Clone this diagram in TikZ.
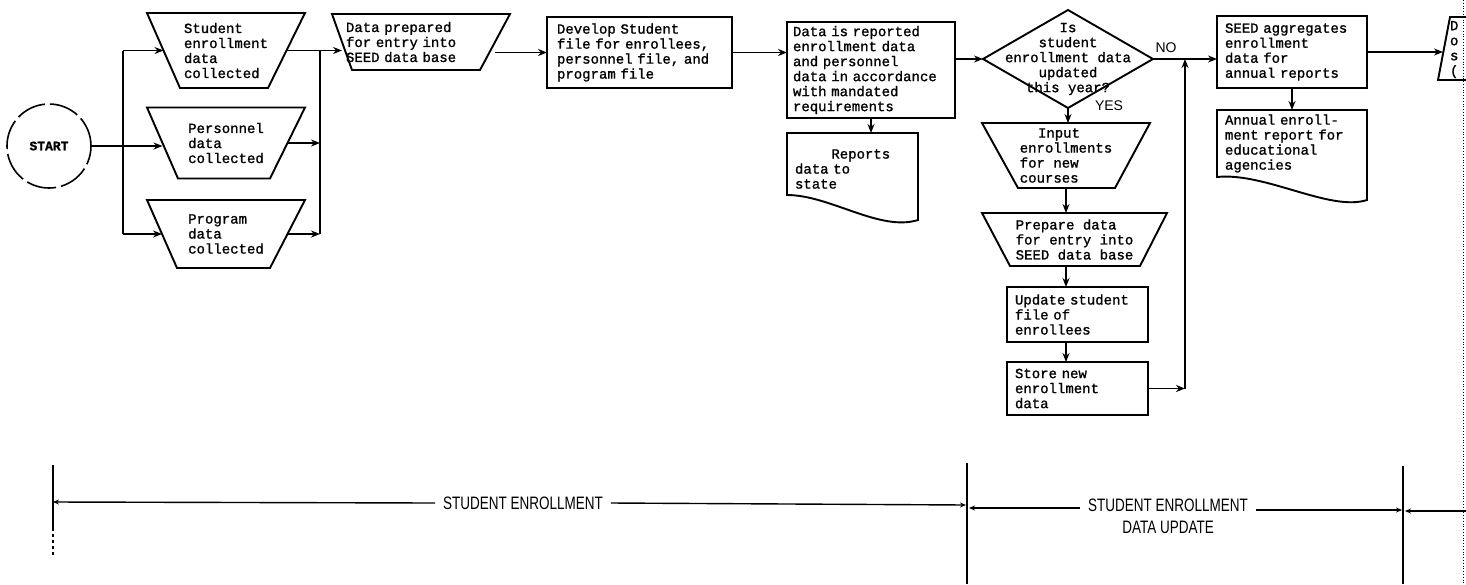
\documentclass[tikz,border=0pt]{standalone}
\usepackage{fontspec}
\usetikzlibrary{arrows.meta,calc}
\newfontfamily\tw[FakeBold=1.2]{Liberation Mono}
\newfontfamily\cond[FakeStretch=0.75]{Liberation Sans}
\newfontfamily\lsans{Liberation Sans}
\newcommand\trapout[3]{\draw[shapeline] (#1.north west) -- (#1.north east) -- ([xshift=-#3pt]#1.south east) -- ([xshift=#2pt]#1.south west) -- cycle;}
\begin{document}
\begin{tikzpicture}[x=1pt,y=-1pt,
  every node/.style={inner sep=0pt, outer sep=0pt},
  shapeline/.style={line width=1.9pt, line join=miter},
  arr/.style={line width=1.7pt, -{Stealth[length=9pt,width=7pt]}},
  conn/.style={line width=1.7pt},
  tarr/.style={line width=1.4pt, -{Stealth[length=6pt,width=5pt]}},
  tickline/.style={line width=1.4pt},
  txt/.style={font=\tw\fontsize{14}{15}\selectfont, align=left},
  procbox/.style={txt, draw, line width=1.9pt, rectangle},
  tlabel/.style={font=\cond\fontsize{18}{22}\selectfont, fill=white, inner xsep=8pt, inner ysep=1pt, align=center},
  flag/.style={font=\lsans\fontsize{14}{14}\selectfont}
]
\fill[white] (0,0) rectangle (1466,584);
\useasboundingbox (0,0) rectangle (1466,584);
\clip (0,0) rectangle (1466,584);

% start
\node[draw, circle, line width=1.6pt, dash pattern=on 30pt off 5pt, minimum size=84pt,
      font=\tw\bfseries\fontsize{13}{13}\selectfont] (start) at (49,146) {START};

% manual input trapezoids
\node[txt, minimum width=158pt, minimum height=75pt] (t1) at (226,50.5) {Student\\enrollment\\data\\collected};
\trapout{t1}{33}{37}
\node[txt, minimum width=158pt, minimum height=71pt] (t2) at (226,143) {Personnel\\data\\collected};
\trapout{t2}{31}{35}
\node[txt, minimum width=158pt, minimum height=68pt] (t3) at (226,234) {Program\\data\\collected};
\trapout{t3}{30}{35}

\coordinate (t1in) at ([xshift=16.5pt]t1.west);
\coordinate (t1out) at ([xshift=-18.5pt]t1.east);
\coordinate (t2in) at ([xshift=15.5pt]t2.west);
\coordinate (t2out) at ([xshift=-17.5pt]t2.east);
\coordinate (t3in) at ([xshift=15pt]t3.west);
\coordinate (t3out) at ([xshift=-17.5pt]t3.east);

\node[txt, text width=150pt, minimum width=178pt, minimum height=56pt] (dp) at (421,42) {Data prepared\\for entry into\\SEED data base};
\trapout{dp}{20}{30}
\coordinate (dpin) at ([xshift=10pt]dp.west);
\coordinate (dpout) at ([xshift=-15pt]dp.east);

\node[procbox, text width=165pt, minimum width=185pt, minimum height=71pt] (dev) at (639.5,52.5) {Develop Student\\file for enrollees,\\personnel file, and\\program file};

\node[procbox, text width=156pt, minimum width=168pt, minimum height=96pt] (rep) at (871,70) {Data is reported\\enrollment data\\and personnel\\data in accordance\\with mandated\\requirements};

\node[txt, text width=115pt, minimum width=131pt, minimum height=72pt] (doc1) at (852.5,169) {\hspace*{2.6em}Reports\\data to\\state};
\draw[shapeline] ([yshift=10pt]doc1.south west) -- (doc1.north west) -- (doc1.north east) -- ([yshift=-15pt]doc1.south east) .. controls (880,232) and (830,195) .. ([yshift=10pt]doc1.south west) -- cycle;

% decision
\node[txt, align=center, minimum width=170pt, minimum height=98pt] (dia) at (1068,59) {Is\\student\\enrollment data\\updated\\this year?};
\draw[shapeline] (dia.west) -- (dia.north) -- (dia.east) -- (dia.south) -- cycle;
\node[flag] (no) at (1166,48) {NO};
\node[flag] (yes) at (1109,106) {YES};

\node[txt, minimum width=168pt, minimum height=65pt] (inp) at (1066,155.5) {\hspace*{1.3em}Input\\enrollments\\for new\\courses};
\trapout{inp}{36}{35}
\node[txt, minimum width=185pt, minimum height=53pt] (prep) at (1074.5,239.5) {Prepare data\\for entry into\\SEED data base};
\trapout{prep}{28}{27}
\node[procbox, text width=125pt, minimum width=141pt, minimum height=55pt] (upd) at (1077.5,314.5) {Update student\\file of\\enrollees};
\node[procbox, text width=125pt, minimum width=141pt, minimum height=53pt] (store) at (1077.5,388.5) {Store new\\enrollment\\data};

\node[procbox, text width=134pt, minimum width=150pt, minimum height=72pt] (agg) at (1292,52) {SEED aggregates\\enrollment\\data for\\annual reports};
\node[txt, text width=134pt, minimum width=150pt, minimum height=67pt] (doc2) at (1292,143.5) {Annual enroll-\\ment report for\\educational\\agencies};
\draw[shapeline] (doc2.south west) -- (doc2.north west) -- (doc2.north east) -- ([yshift=-23pt]doc2.south east) .. controls (1330,212) and (1265,172) .. (doc2.south west) -- cycle;

% partial shape at right edge
\draw[shapeline] (1470,17) -- (1450,17) -- (1438,80) -- (1470,80);
\node[txt, anchor=north west] (last) at (1450,21) {D\\o\\s\\(};
\coordinate (lastin) at (1443,52);

% connectors
\coordinate (br) at (123,146);
\coordinate (mg) at (320,49);
\coordinate (lp) at (1185,59);
\draw[arr] (start.east) -- (t2in |- start.east);
\draw[conn] (br |- t1in) -- (br |- t3in);
\draw[arr] (br |- t1in) -- (t1in);
\draw[arr] (br |- t3in) -- (t3in);
\draw[conn] (t1out) -- (mg |- t1out) -- (mg |- t3out);
\draw[arr] (t2out) -- (mg |- t2out);
\draw[arr] (t3out) -- (mg |- t3out);
\draw[arr] (mg |- t1out) -- (dpin |- t1out);
\draw[arr] (dpout |- dev.west) -- (dev.west);
\draw[arr] (dev.east) -- (dev.east -| rep.west);
\draw[arr] (rep.east |- dia.west) -- (dia.west);
\draw[arr] (rep.south) -- (rep.south |- doc1.north);
\draw[arr] (dia.east) -- (dia.east -| agg.west);
\draw[arr] (dia.south) -- (dia.south |- inp.north);
\draw[arr] (inp.south) -- (inp.south |- prep.north);
\draw[arr] (inp.south |- prep.south) -- (inp.south |- upd.north);
\draw[arr] (inp.south |- upd.south) -- (inp.south |- store.north);
\draw[arr] (store.east) -- (store.east -| lp);
\draw[arr] (store.east -| lp) -- (lp);
\draw[arr] (agg.south) -- (doc2.north);
\draw[arr] (agg.east) -- (lastin);

% page edge
\draw[dotted, line width=0.8pt] (1463,0) -- (1463,584);

% timeline
\coordinate (v1) at (53,502);
\coordinate (v2a) at (966,505);
\coordinate (v2b) at (969,508);
\coordinate (v3a) at (1402,510);
\coordinate (v3b) at (1405,511);
\coordinate (redge) at (1466,511);
\node[tlabel] (se) at (523,503) {STUDENT ENROLLMENT};
\node[tlabel] (seu) at (1168,516) {STUDENT ENROLLMENT\\DATA UPDATE};
\draw[tarr] (se.west) -- (v1);
\draw[tarr] (se.east) -- (v2a);
\draw[tarr] (seu.west |- v2b) -- (v2b);
\draw[tarr] (seu.east |- v3a) -- (v3a);
\draw[tarr] (redge) -- (v3b);
\draw[tickline] (53,465) -- (53,528);
\draw[tickline, dashed] (53,528) -- (53,557);
\draw[tickline] (967,463) -- (967,584);
\draw[tickline] (1403,466) -- (1403,584);
\end{tikzpicture}
\end{document}
